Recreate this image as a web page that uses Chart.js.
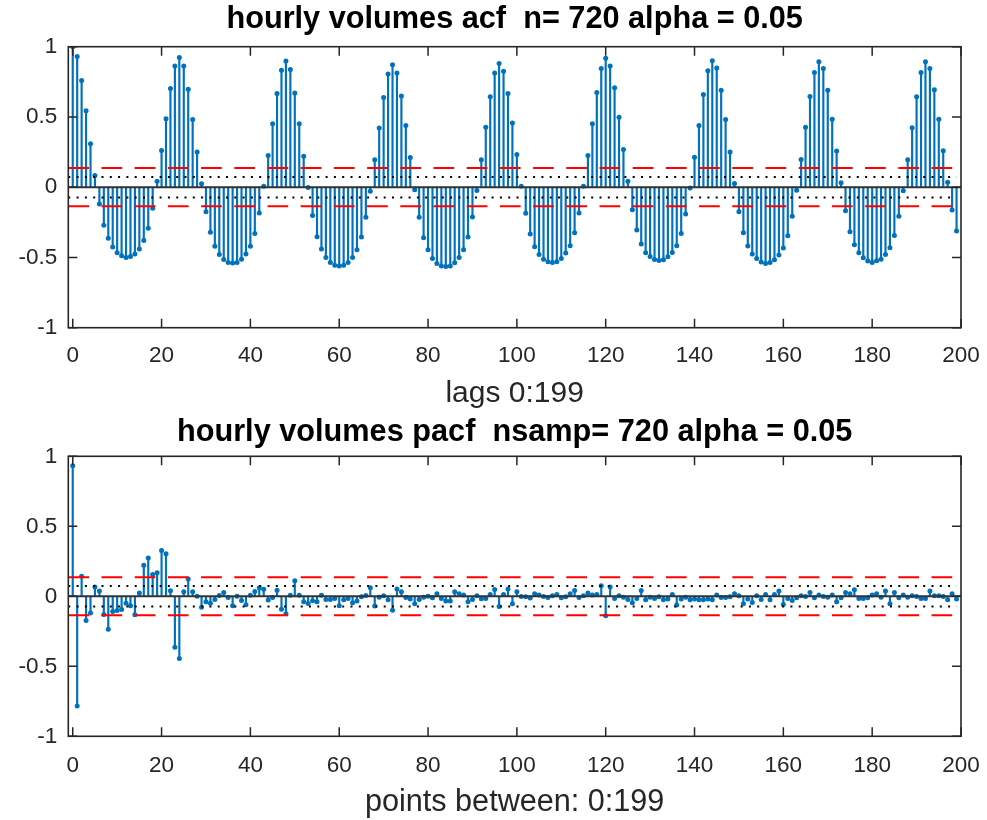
<!DOCTYPE html>
<html><head><meta charset="utf-8">
<script src="https://cdn.jsdelivr.net/npm/chart.js@4/dist/chart.umd.min.js"></script>
<style>
html,body{margin:0;padding:0;background:#fff;}
.wrap{position:absolute;left:0;width:987px;height:410px;}
canvas{display:block;}
</style></head><body>
<div class="wrap" style="top:0"><canvas id="c1" width="987" height="410"></canvas></div>
<div class="wrap" style="top:410px"><canvas id="c2" width="987" height="410"></canvas></div>
<script>
// ---- data ----
const acfValues = [
1.0, 0.93, 0.76, 0.545, 0.31, 0.083, -0.12, -0.27, -0.364, -0.426,
-0.467, -0.488, -0.5, -0.493, -0.476, -0.44, -0.38, -0.293, -0.15, 0.043,
0.262, 0.488, 0.702, 0.862, 0.924, 0.862, 0.698, 0.481, 0.25, 0.024,
-0.174, -0.321, -0.421, -0.479, -0.514, -0.536, -0.54, -0.536, -0.512, -0.476,
-0.421, -0.329, -0.183, 0.007, 0.226, 0.452, 0.667, 0.833, 0.898, 0.838,
0.671, 0.452, 0.221, -0.002, -0.202, -0.352, -0.44, -0.5, -0.536, -0.555,
-0.56, -0.555, -0.536, -0.5, -0.445, -0.355, -0.214, -0.029, 0.195, 0.421,
0.638, 0.805, 0.871, 0.812, 0.65, 0.44, 0.212, -0.019, -0.214, -0.36,
-0.445, -0.507, -0.543, -0.56, -0.564, -0.56, -0.538, -0.5, -0.445, -0.355,
-0.212, -0.024, 0.195, 0.426, 0.643, 0.812, 0.881, 0.826, 0.667, 0.457,
0.233, 0.007, -0.186, -0.333, -0.424, -0.479, -0.512, -0.531, -0.536, -0.531,
-0.507, -0.469, -0.417, -0.324, -0.183, 0.007, 0.226, 0.452, 0.674, 0.845,
0.917, 0.862, 0.707, 0.498, 0.269, 0.043, -0.16, -0.305, -0.405, -0.467,
-0.493, -0.514, -0.522, -0.517, -0.495, -0.464, -0.417, -0.329, -0.19, -0.005,
0.214, 0.44, 0.66, 0.829, 0.9, 0.848, 0.69, 0.481, 0.25, 0.026,
-0.174, -0.324, -0.419, -0.476, -0.507, -0.533, -0.543, -0.536, -0.517, -0.483,
-0.433, -0.345, -0.207, -0.021, 0.198, 0.426, 0.645, 0.817, 0.893, 0.845,
0.69, 0.483, 0.257, 0.031, -0.167, -0.317, -0.41, -0.467, -0.502, -0.526,
-0.536, -0.524, -0.512, -0.479, -0.431, -0.343, -0.207, -0.026, 0.195, 0.424,
0.643, 0.817, 0.893, 0.845, 0.693, 0.483, 0.26, 0.036, -0.162, -0.312
];
const pacfValues = [
0.932, -0.784, 0.144, -0.173, -0.12, 0.066, 0.037, -0.13, -0.235, -0.109,
-0.101, -0.094, -0.049, -0.068, -0.132, 0.023, 0.221, 0.273, 0.156, 0.168,
0.328, 0.304, 0.039, -0.364, -0.445, 0.032, 0.123, 0.032, 0.0, -0.078,
-0.039, -0.049, -0.023, 0.006, 0.027, -0.008, -0.068, 0.0, -0.03, -0.061,
0.008, 0.035, 0.061, 0.051, -0.027, -0.008, 0.044, -0.092, -0.125, 0.008,
0.111, 0.008, -0.039, -0.051, -0.032, -0.039, 0.008, -0.023, -0.023, -0.016,
-0.068, -0.025, -0.015, -0.046, -0.034, -0.003, 0.006, 0.061, -0.07, -0.006,
0.004, -0.025, -0.099, 0.052, 0.032, -0.008, -0.02, -0.053, -0.022, -0.006,
0.001, -0.01, 0.018, -0.015, -0.034, -0.034, 0.032, 0.018, 0.009, -0.039,
-0.022, 0.004, -0.018, -0.015, 0.013, 0.049, -0.073, 0.013, 0.052, -0.053,
0.032, -0.001, -0.003, -0.013, 0.018, 0.009, -0.001, -0.008, 0.004, 0.013,
-0.01, -0.003, 0.018, 0.042, -0.008, 0.004, 0.023, 0.009, 0.013, 0.075,
-0.139, 0.066, -0.015, 0.004, -0.006, -0.022, -0.046, -0.015, 0.042, -0.025,
-0.006, -0.015, -0.003, -0.025, -0.02, 0.013, -0.063, -0.02, -0.006, -0.025,
-0.02, -0.025, -0.025, -0.02, -0.025, 0.009, -0.008, -0.008, -0.003, 0.018,
0.004, -0.053, -0.02, -0.044, 0.004, -0.022, 0.013, -0.025, 0.013, 0.037,
-0.058, -0.015, -0.03, -0.01, 0.004, -0.001, 0.028, -0.01, 0.009, -0.001,
-0.006, 0.009, -0.039, -0.01, 0.028, 0.018, 0.047, -0.015, -0.015, -0.01,
0.009, 0.018, -0.006, 0.037, -0.053, 0.028, -0.01, 0.009, -0.006, 0.004,
-0.001, -0.015, -0.015, 0.037, 0.004, 0.004, -0.001, -0.025, 0.018, -0.02
];
const lags = acfValues.map((_, i) => i);           // 0..199
const xTickValues = [0, 20, 40, 60, 80, 100, 120, 140, 160, 180, 200];
const yTickValues = [-1, -0.5, 0, 0.5, 1];
const xLimits = [-1, 200];
const yLimits = [-1, 1];
const dottedBound = [0.073];   // black dotted +/- level
const dashedBound = [0.136];   // red dashed +/- level
const boundSpan = [-1, 199];   // x extent of the bound lines
const titles = ['hourly volumes acf  n= 720 alpha = 0.05', 'hourly volumes pacf  nsamp= 720 alpha = 0.05'];
const xLabels = ['lags 0:199', 'points between: 0:199'];

const FONT = "'Liberation Sans', Arial, Helvetica, sans-serif";
const TXT = '#262626';
const BLUE = '#0072BD';

const boxPlugin = {
  id: 'matlabBox',
  afterDraw(chart) {
    const {ctx, chartArea: a, scales} = chart;
    ctx.save();
    ctx.strokeStyle = TXT;
    ctx.lineWidth = 1.5;
    ctx.beginPath();
    const tl = 9;
    xTickValues.forEach(v => {
      const px = scales.x.getPixelForValue(v);
      ctx.moveTo(px, a.bottom); ctx.lineTo(px, a.bottom - tl);
      ctx.moveTo(px, a.top); ctx.lineTo(px, a.top + tl);
    });
    yTickValues.forEach(v => {
      const py = scales.y.getPixelForValue(v);
      ctx.moveTo(a.left, py); ctx.lineTo(a.left + tl, py);
      ctx.moveTo(a.right, py); ctx.lineTo(a.right - tl, py);
    });
    ctx.stroke();
    ctx.lineWidth = 1.6;
    ctx.strokeRect(a.left, a.top, a.right - a.left, a.bottom - a.top);
    ctx.restore();
  }
};

function hline(y, x0, x1, color, width, dash) {
  return {
    type: 'line',
    data: [{x: x0, y: y}, {x: x1, y: y}],
    borderColor: color, borderWidth: width, borderDash: dash,
    borderCapStyle: 'butt', pointRadius: 0, fill: false, tension: 0
  };
}

function noPad(s) { s.paddingLeft = 0; s.paddingRight = 0; s.paddingTop = 0; s.paddingBottom = 0; }

function makeChart(id, values, idx, L) {
  const pts = lags.map((k, i) => ({x: k, y: values[i]}));
  const datasets = [
    hline(dashedBound[0], boundSpan[0], boundSpan[1], '#ff0000', 2, [20.7, 12.5]),
    hline(-dashedBound[0], boundSpan[0], boundSpan[1], '#ff0000', 2, [20.7, 12.5]),
    hline(dottedBound[0], boundSpan[0], boundSpan[1], '#000000', 2, [2, 6.3]),
    hline(-dottedBound[0], boundSpan[0], boundSpan[1], '#000000', 2, [2, 6.3]),
    hline(0, xLimits[0], xLimits[1], '#333333', 2, []),
    { type: 'line', data: pts, showLine: false, pointRadius: 2.5, pointHoverRadius: 2.5,
      pointBackgroundColor: BLUE, pointBorderWidth: 0, borderColor: BLUE },
    { type: 'bar', data: pts, backgroundColor: BLUE, borderWidth: 0, barThickness: 1.5 }
  ];
  return new Chart(document.getElementById(id), {
    type: 'scatter',
    data: { datasets },
    plugins: [boxPlugin],
    options: {
      responsive: false, animation: false, devicePixelRatio: 1,
      events: [],
      layout: { padding: { left: 0, right: 26, top: 0, bottom: 0 } },
      plugins: {
        legend: { display: false }, tooltip: { enabled: false }, title: { display: false }
      },
      scales: {
        x: {
          type: 'linear', min: xLimits[0], max: xLimits[1], offset: false,
          grid: { display: false, drawTicks: false }, border: { display: false },
          afterBuildTicks: s => { s.ticks = xTickValues.map(v => ({ value: v })); },
          afterFit: s => { s.height = L.xHeight; noPad(s); },
          ticks: { color: TXT, font: { family: FONT, size: L.tickSize }, padding: L.xTickPad,
            maxRotation: 0, autoSkip: false, callback: v => String(v) },
          title: { display: true, text: xLabels[idx], color: TXT,
            font: { family: FONT, size: L.labelSize, lineHeight: 1.1 },
            padding: { top: 0, bottom: L.xTitleBottom } }
        },
        xTitle: {
          type: 'linear', position: 'top', min: xLimits[0], max: xLimits[1], offset: false,
          grid: { display: false, drawTicks: false }, border: { display: false },
          ticks: { display: false },
          afterFit: s => { s.height = L.topHeight; noPad(s); },
          title: { display: true, text: titles[idx], color: '#000',
            font: { family: FONT, size: L.titleSize, weight: 'bold', lineHeight: 1.2 },
            padding: { top: L.titleTop, bottom: 0 } }
        },
        y: {
          type: 'linear', min: yLimits[0], max: yLimits[1],
          grid: { display: false, drawTicks: false }, border: { display: false },
          afterBuildTicks: s => { s.ticks = yTickValues.map(v => ({ value: v })); },
          afterFit: s => { s.width = 68.3; noPad(s); },
          ticks: { color: TXT, font: { family: FONT, size: L.tickSize }, padding: 11,
            callback: v => String(v) }
        }
      }
    }
  });
}

makeChart('c1', acfValues, 0, { titleSize: 30.7, titleTop: 1.6, topHeight: 46.7,
  xHeight: 410 - 327.7, tickSize: 22.5, xTickPad: 15, labelSize: 30, xTitleBottom: -0.5 });
makeChart('c2', pacfValues, 1, { titleSize: 30.7, titleTop: 4.6, topHeight: 46.3,
  xHeight: 410 - 326.3, tickSize: 22.5, xTickPad: 16.3, labelSize: 30.6, xTitleBottom: 0.5 });
</script>
</body></html>
